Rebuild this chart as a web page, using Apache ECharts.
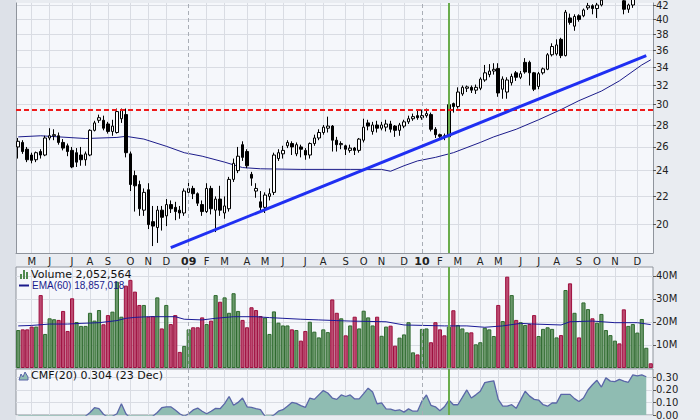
<!DOCTYPE html>
<html><head><meta charset="utf-8">
<script src="https://cdn.jsdelivr.net/npm/echarts@6/dist/echarts.min.js"></script>
<style>html,body{margin:0;padding:0;background:#e9ecf1}#c{width:700px;height:420px}</style>
</head><body><div id="c"></div>
<script>
// ---------- categories: weekly bars (week starting Monday) ----------
const FIRST_WEEK = '2008-04-14';
const N_WEEKS = 142;
const weeks = [];
(function () { const t0 = Date.parse(FIRST_WEEK + 'T00:00:00Z'); for (let i = 0; i < N_WEEKS; i++) weeks.push(new Date(t0 + i * 7 * 864e5).toISOString().slice(0, 10)); })();

// ---------- price (weekly OHLC) ----------
const open = [26.0,26.4,25.8,25.3,24.9,25.6,25.3,26.8,27.0,27.0, 26.4,26.1,25.7,25.5,25.3,24.9,25.3,27.5,28.45,28.45, 28.1,27.4,27.3,28.6,29.0,25.4,23.6,22.9,21.0,22.5, 20.2,19.8,21.0,20.6,21.4,21.2,21.0,20.8,22.3,22.6, 22.2,21.4,20.9,22.6,21.0,21.8,20.8,21.1,23.3,24.0, 26.2,25.6,23.7,22.4,21.6,21.2,22.0,22.3,25.0,25.4, 26.1,26.3,25.4,26.0,25.7,25.3,26.3,26.8,27.3,27.7, 27.9,26.6,26.2,26.1,25.7,25.9,25.7,26.6,28.2,27.4, 28.0,27.7,27.8,28.1,27.9,27.5,27.9,28.3,28.6,28.9, 28.7,28.9,29.0,27.6,27.1,27.0,26.9,30.1,29.8,31.1, 31.7,31.8,31.5,31.7,32.6,33.2,33.6,33.9,31.6,31.3, 32.3,33.4,32.9,34.6,34.6,33.4,31.9,33.4,33.8,35.5, 35.6,37.4,35.4,40.2,39.1,40.5,40.5,41.6,41.9,41.5, 42.0,42.7,43.2,43.6,43.9,42.6,41.4,42.0,43.0,43.5, 44.0,44.5];
const high = [26.8,26.6,26.0,25.5,25.6,25.8,27.0,27.7,27.6,27.3, 26.7,26.3,26.0,25.9,26.0,25.6,27.6,28.4,29.0,28.9, 28.3,28.5,29.6,29.6,29.6,25.6,24.0,23.2,22.6,23.0, 21.3,21.3,21.3,21.8,21.7,21.6,21.3,22.6,23.2,22.8, 22.3,21.7,23.0,22.8,22.0,22.8,22.0,23.5,25.0,26.0, 26.5,25.8,23.9,23.0,22.4,22.3,22.6,25.5,25.8,26.1, 26.6,26.5,26.4,26.2,25.9,26.4,27.1,27.6,28.0,28.8, 28.0,26.9,26.5,26.2,26.2,26.0,26.8,28.6,28.5,28.3, 28.4,28.3,28.5,28.4,28.0,28.2,28.5,28.9,29.1,29.4, 29.5,29.6,29.2,27.8,27.2,27.2,30.3,30.2,31.8,32.0, 32.0,32.0,32.1,32.9,34.3,34.4,34.5,34.5,33.0,32.9, 33.3,33.6,33.6,35.1,34.8,33.5,33.5,34.0,35.7,36.9, 37.4,37.6,41.3,40.8,40.7,40.7,41.5,42.3,42.1,42.3, 43.0,43.6,44.0,44.3,44.1,42.8,42.2,43.1,43.8,44.4, 44.8,44.6];
const low = [25.0,25.4,24.7,24.6,24.7,25.0,25.2,26.6,26.6,26.2, 25.7,25.2,24.2,24.3,24.4,24.4,25.2,27.4,28.2,27.5, 27.2,27.0,27.2,28.2,25.1,22.4,20.9,20.6,20.6,19.7, 18.6,18.8,19.6,19.9,20.8,20.3,20.4,20.6,22.0,21.8, 21.3,20.6,20.8,20.7,19.5,20.6,20.4,20.9,23.1,23.8, 24.8,24.2,22.8,21.9,21.0,20.8,21.7,22.1,24.8,25.0, 25.9,25.3,25.2,25.1,24.9,25.0,26.1,26.6,27.1,27.3, 25.6,25.6,25.8,25.3,25.5,25.3,25.5,26.4,27.5,27.1, 27.3,27.5,27.4,27.3,26.9,27.0,27.7,28.1,28.4,28.5, 28.5,28.7,27.4,26.8,26.7,26.6,26.8,29.2,29.6,30.9, 31.3,31.2,31.1,31.5,32.4,32.9,33.2,30.8,30.6,30.6, 32.0,32.5,32.7,33.3,32.0,31.4,31.6,33.2,33.7,35.3, 35.4,35.1,35.3,39.3,38.5,39.7,40.3,41.3,40.7,40.2, 41.8,42.5,42.9,43.2,42.6,40.7,40.9,41.6,42.7,43.2, 43.7,44.1];
const close = [26.5,25.6,24.9,24.85,25.5,25.3,26.8,27.0,27.1,26.4, 25.9,25.6,24.3,24.7,24.9,25.4,27.5,28.2,28.7,27.7, 27.4,27.9,29.3,29.4,25.5,22.9,22.8,21.1,22.3,20.0, 19.9,21.0,20.5,21.4,21.1,20.9,20.8,22.4,22.6,22.2, 21.5,20.9,22.6,21.1,21.8,21.0,21.3,23.3,24.6,25.2, 25.1,24.4,23.4,22.6,21.2,22.1,22.2,25.3,25.5,25.7, 26.4,26.0,26.2,25.8,25.3,26.3,26.8,27.3,27.8,27.9, 26.6,26.2,26.3,25.8,25.9,25.7,26.7,27.8,27.9,28.0, 27.7,28.0,28.1,27.6,27.5,28.0,28.3,28.6,28.8,28.7, 28.9,29.1,27.6,27.1,26.95,26.9,30.0,29.8,31.3,31.8, 31.85,31.5,31.8,32.7,33.4,33.6,33.8,31.2,32.7,32.6, 33.0,32.9,33.3,33.5,33.4,31.6,33.3,33.85,35.5,36.5, 36.7,35.4,41.0,39.6,40.4,40.0,41.3,41.9,41.5,42.0, 42.7,43.2,43.6,43.9,43.2,41.4,42.0,42.9,43.5,44.0, 44.5,44.3];

// price moving average (read at sample weeks)
const maWeek = [0,5,9,15,22,24,28,33,37,41,46,50,54,63,74,81,83,86,89,93,97,103,106,111,116,121,125,130,134,139,141];
const maValue = [26.9,27.0,26.9,26.75,26.85,26.95,26.7,26.06,25.5,25.2,24.7,24.25,24.15,24.1,24.1,24.1,23.95,24.4,24.8,25.1,25.5,26.4,26.9,27.6,28.5,29.5,30.4,31.4,32.5,34.3,34.9];

// ---------- volume (millions) ----------
const volume = [16.5,16.8,16.8,18.0,18.0,31.7,14.8,21.6,21.2,20.9, 24.8,16.1,30.3,20.0,18.3,18.3,24.0,20.6,25.2,19.0, 23.0,24.5,37.5,22.3,35.8,38.3,33.2,27.4,27.4,22.3, 22.6,30.7,17.2,27.4,19.1,23.0,7.0,9.6,16.8,17.7, 17.7,22.0,19.1,20.6,31.7,28.8,30.7,24.0,32.5,24.8, 20.9,17.7,26.4,25.2,22.6,21.9,14.8,24.6,19.7,18.5, 18.5,16.8,16.5,11.9,16.1,20.1,15.8,13.3,16.8,15.6, 29.8,24.0,21.6,14.2,18.5,22.3,17.2,24.9,22.0,18.5, 22.3,14.0,18.0,18.4,9.7,13.2,14.6,19.9,6.8,5.9, 17.0,17.2,11.2,19.9,16.8,14.2,18.0,25.1,18.7,17.2, 15.5,15.5,10.3,11.2,17.5,16.8,13.9,27.4,20.4,39.7, 31.7,20.9,19.9,18.7,19.1,23.0,13.9,17.0,17.7,17.0, 13.3,14.3,33.9,36.8,24.0,13.3,28.5,25.6,21.6,19.7, 23.5,16.5,14.3,11.9,10.7,25.5,18.3,19.1,15.4,21.3, 8.8,2.05];
const volUp = [1,0,0,0,1,0,1,1,1,0, 0,0,0,1,1,1,1,1,1,0, 0,1,1,1,0,0,0,0,1,0, 0,1,0,1,0,0,0,1,1,0, 0,0,1,0,1,0,1,1,1,1, 0,0,0,0,0,1,1,1,1,1, 1,0,1,0,0,1,1,1,1,1, 0,0,1,0,1,0,1,1,1,1, 0,1,1,0,0,1,1,1,1,0, 1,1,0,0,0,0,1,0,1,1, 1,0,1,1,1,1,1,0,1,0, 1,0,1,1,0,0,1,1,1,1, 1,0,1,0,1,0,1,1,0,1, 1,1,1,1,0,0,1,1,1,1, 1,0];
const emaWeek = [0,3,7,11,14,18,22,24,26,29,35,37,41,44,48,53,56,59,63,67,71,74,82,86,95,100,104,108,112,115,121,123,128,133,138,141];
const emaValue = [18.3,18.5,19.1,19.1,19.4,19.7,20.6,21.6,22.0,22.3,22.3,21.2,20.9,21.6,22.3,22.3,21.9,21.6,21.2,20.9,20.6,20.4,20.1,18.7,18.3,18.3,17.7,18.3,19.4,19.1,18.7,20.1,20.4,19.7,19.7,18.86];

// ---------- Chaikin Money Flow (20) ----------
const cmf = [-0.06,-0.08,-0.10,-0.11,-0.09,-0.10,-0.07,-0.05,-0.04,-0.06, -0.08,-0.09,-0.10,-0.07,-0.04,-0.01,0.02,0.058,0.05,0.006, -0.02,-0.01,0.01,0.089,0.01,-0.03,-0.05,-0.06,-0.05,-0.03, -0.01,0.02,0.058,0.065,0.065,0.04,0.01,-0.01,0.01,0.04, 0.055,0.03,0.01,0.03,0.053,0.05,0.09,0.147,0.077,0.10, 0.135,0.065,0.06,0.05,0.042,-0.01,-0.02,0.0,0.03,0.042, 0.07,0.10,0.093,0.075,0.060,0.135,0.124,0.16,0.194,0.175, 0.135,0.124,0.159,0.147,0.159,0.128,0.128,0.17,0.213,0.182, 0.0885,0.0955,0.0486,0.046,0.0345,0.0415,0.0228,0.0486,0.03,0.03, 0.112,0.159,0.077,0.065,0.0345,0.065,0.119,0.0815,0.0815,0.14, 0.199,0.135,0.16,0.189,0.2575,0.265,0.272,0.124,0.07,0.07, 0.0815,0.053,0.12,0.189,0.15,0.124,0.119,0.0815,0.07,0.0955, 0.0955,0.164,0.164,0.164,0.13,0.107,0.135,0.199,0.24,0.276, 0.222,0.295,0.269,0.265,0.283,0.27,0.26,0.3185,0.3115,0.3185, 0.304,null];

// ---------- annotations & ticks ----------
const priceTicks = [20,22,24,26,28,30,32,34,36,38,40,42];
const volTicks = [10,20,30,40];
const cmfTicks = [0,0.1,0.2,0.3];
const resistance = 29.5;
const trendFrom = [34, 18.5], trendTo = [140, 35.4];
const signalWeek = 96;
const legendVolume = 'Volume 2,052,564';
const legendEma = 'EMA(60) 18,857,018';
const legendCmf = 'CMF(20) 0.304 (23 Dec)';

// ---------- helpers ----------
const MONTH = ['J','F','M','A','M','J','J','A','S','O','N','D'];
const monthOf = i => +weeks[i].slice(5, 7);
const isMonthStart = i => i > 0 && monthOf(i) !== monthOf(i - 1);
const isYearStart = i => isMonthStart(i) && monthOf(i) === 1;
const yearStarts = weeks.map((w, i) => i).filter(isYearStart);
function sparse(idx, val) { const a = new Array(N_WEEKS).fill(null); idx.forEach((k, j) => a[k] = val[j]); return a; }

const GRID_BG = '#f5f7fb', GRID_LINE = '#d9dce3', BORDER = '#8f949c';
const FONT = 'DejaVu Sans';
const L = 16, R = 47;

function xAxisFor(gridIndex, showLabels) {
  return {
    type: 'category', gridIndex, data: weeks, boundaryGap: true,
    axisLine: { show: gridIndex === 0, lineStyle: { color: BORDER, width: 1 } }, axisTick: { show: false },
    axisLabel: showLabels ? {
      show: true, interval: (i) => isMonthStart(i), margin: 3, color: '#222', fontFamily: FONT, fontSize: 10,
      formatter: (v) => { const m = +v.slice(5, 7); return m === 1 ? '{y|' + v.slice(2, 4) + '}' : MONTH[m - 1]; },
      rich: { y: { fontWeight: 'bold', fontSize: 11, fontFamily: FONT, color: '#222' } }
    } : { show: false },
    splitLine: { show: true, interval: (i) => isMonthStart(i) && !isYearStart(i), alignWithLabel: true, lineStyle: { color: GRID_LINE, width: 1 } }
  };
}
const yearLines = yearStarts.map(i => ({ xAxis: weeks[i], lineStyle: { color: '#a9aeb6', type: [4, 3], width: 1 } }));
const signalLine = { xAxis: weeks[signalWeek], lineStyle: { color: '#6aac4c', width: 2, type: 'solid' } };
const mlBase = { symbol: ['none', 'none'], silent: true, animation: false, label: { show: false } };

const chart = echarts.init(document.getElementById('c'), null, { renderer: 'svg', width: 700, height: 420 });
chart.setOption({
  animation: false,
  backgroundColor: '#e9ecf1',
  grid: [
    { left: L, right: R, top: 0, height: 253, show: true, backgroundColor: GRID_BG, borderWidth: 0 },
    { left: L, right: R, top: 267, height: 101, show: true, backgroundColor: GRID_BG, borderColor: BORDER, borderWidth: 1 },
    { left: L, right: R, top: 369, bottom: 0, show: true, backgroundColor: GRID_BG, borderColor: BORDER, borderWidth: 1 }
  ],
  xAxis: [xAxisFor(0, true), xAxisFor(1, false), xAxisFor(2, false)],
  yAxis: [
    { type: 'log', logBase: 10, gridIndex: 0, position: 'right', min: 18.17, max: 42.29,
      axisLine: { show: true, lineStyle: { color: BORDER, width: 1 } },
      axisTick: { show: true, customValues: priceTicks, length: 3, lineStyle: { color: '#555' } },
      axisLabel: { customValues: priceTicks, formatter: v => String(Math.round(v)), margin: 3, color: '#222', fontFamily: FONT, fontSize: 10 },
      splitLine: { show: true, lineStyle: { color: GRID_LINE } } },
    { type: 'value', gridIndex: 1, position: 'right', min: 0, max: 43.9,
      axisLine: { show: false },
      axisTick: { show: true, customValues: volTicks, length: 3, lineStyle: { color: '#555' } },
      axisLabel: { customValues: volTicks, formatter: v => v + 'M', margin: 3, color: '#222', fontFamily: FONT, fontSize: 10 },
      splitLine: { show: true, lineStyle: { color: GRID_LINE } } },
    { type: 'value', gridIndex: 2, position: 'right', min: -0.0001, max: 0.3655,
      axisLine: { show: false },
      axisTick: { show: true, customValues: cmfTicks, length: 3, lineStyle: { color: '#555' } },
      axisLabel: { customValues: cmfTicks, formatter: v => v.toFixed(2), margin: 3, color: '#222', fontFamily: FONT, fontSize: 10 },
      splitLine: { show: true, lineStyle: { color: GRID_LINE } } },
    { type: 'value', gridIndex: 0, position: 'left', axisLine: { show: true, onZero: false, lineStyle: { color: BORDER, width: 1 } },
      axisTick: { show: false }, axisLabel: { show: false }, splitLine: { show: false } }
  ],
  series: [
    { type: 'line', xAxisIndex: 0, yAxisIndex: 0, data: sparse(maWeek, maValue), connectNulls: true, symbol: 'none',
      lineStyle: { color: '#1c1c8a', width: 1 }, z: 2 },
    { type: 'candlestick', xAxisIndex: 0, yAxisIndex: 0, barWidth: 3,
      data: open.map((o, i) => [o, close[i], low[i], high[i]]),
      itemStyle: { color: '#ffffff', color0: '#000000', borderColor: '#000000', borderColor0: '#000000', borderWidth: 1 },
      z: 3,
      markLine: Object.assign({}, mlBase, { data: [
        ...yearLines,
        signalLine,
        { yAxis: resistance, lineStyle: { color: '#ee1a1a', type: [5, 3], width: 2 } },
        [ { coord: [weeks[trendFrom[0]], trendFrom[1]], lineStyle: { color: '#1f2ff2', width: 3, type: 'solid' } },
          { coord: [weeks[trendTo[0]], trendTo[1]] } ]
      ] }) },
    { type: 'bar', xAxisIndex: 1, yAxisIndex: 1, barCategoryGap: '8%',
      data: volume.map((v, i) => ({ value: v, itemStyle: volUp[i] ? { color: '#6a986a', borderColor: '#2f6a2f', borderWidth: 1 } : { color: '#bc4a71', borderColor: '#9e0f3e', borderWidth: 1 } })),
      markLine: Object.assign({}, mlBase, { data: [...yearLines, signalLine] }) },
    { type: 'line', xAxisIndex: 1, yAxisIndex: 1, data: sparse(emaWeek, emaValue), connectNulls: true, symbol: 'none',
      lineStyle: { color: '#1a1a96', width: 1 }, z: 4 },
    { type: 'line', xAxisIndex: 2, yAxisIndex: 2, data: cmf, symbol: 'none',
      lineStyle: { color: '#5a66a8', width: 1.3 }, areaStyle: { color: '#8fbcb2', opacity: 1 },
      markLine: Object.assign({}, mlBase, { data: [...yearLines, signalLine] }) }
  ],
  graphic: [
    { type: 'rect', shape: { x: 0, y: 0, width: 16, height: 420 }, style: { fill: '#dde1e8' }, z: -1, silent: true },
    { type: 'rect', shape: { x: 20, y: 274, width: 2, height: 5 }, style: { fill: '#4f8a4f' }, z: 100 },
    { type: 'rect', shape: { x: 23, y: 270, width: 2, height: 9 }, style: { fill: '#4f8a4f' }, z: 100 },
    { type: 'rect', shape: { x: 26, y: 272, width: 2, height: 7 }, style: { fill: '#4f8a4f' }, z: 100 },
    { type: 'text', x: 31, y: 274.5, style: { text: legendVolume, font: '11px "DejaVu Sans"', fill: '#111', verticalAlign: 'middle' }, z: 100 },
    { type: 'line', shape: { x1: 19, y1: 285.5, x2: 29, y2: 285.5 }, style: { stroke: '#1a1a8c', lineWidth: 2 }, z: 100 },
    { type: 'text', x: 32, y: 285.5, style: { text: legendEma, font: '10px "Liberation Sans"', fill: '#1a1a8c', verticalAlign: 'middle' }, z: 100 },
    { type: 'polygon', shape: { points: [[19, 380], [21, 374], [23, 377], [25, 372], [28, 377], [28, 380]] }, style: { fill: '#8fbcb2', stroke: '#5a66a8', lineWidth: 1 }, z: 100 },
    { type: 'text', x: 31, y: 375.5, style: { text: legendCmf, font: '11px "DejaVu Sans"', fill: '#111', verticalAlign: 'middle' }, z: 100 }
  ]
});
</script></body></html>
